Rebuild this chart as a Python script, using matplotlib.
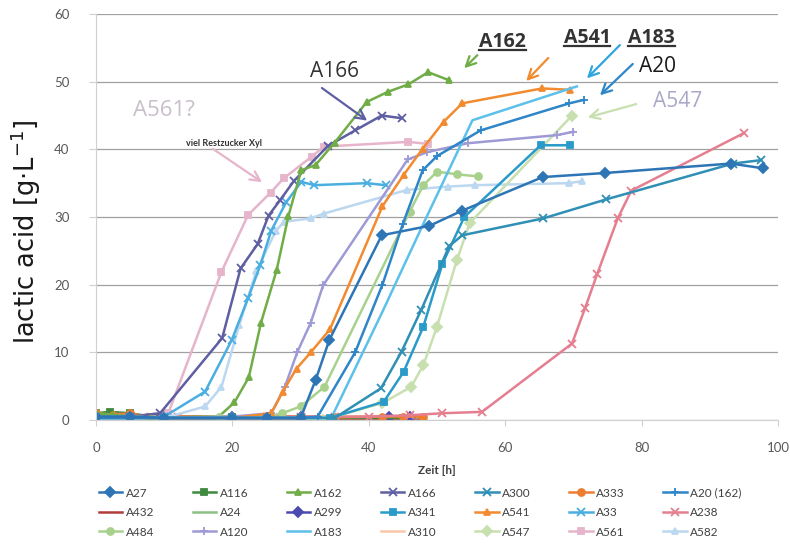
import matplotlib
matplotlib.use('Agg')
import matplotlib.pyplot as plt
from matplotlib.lines import Line2D

# lactic acid [g/L] over fermentation time [h], one pair of lists per strain
t_A27 = [0, 5, 10, 20, 25, 30, 32.2, 34.2, 41.9, 48.9, 53.6, 65.5, 74.6, 93.1, 97.8]
v_A27 = [0.5, 0.5, 0.3, 0.3, 0.3, 0.3, 5.9, 11.8, 27.3, 28.7, 30.9, 35.9, 36.5, 37.9, 37.2]

t_A116 = [0, 2, 5, 8, 20, 25, 30, 35, 45]
v_A116 = [1.0, 1.2, 1.0, 0.5, 0.5, 0.5, 0.5, 0.3, 0.3]

t_A162 = [0, 2.5, 5, 8, 18, 20.3, 22.4, 24.2, 26.5, 28.2, 30.1, 32.2, 35, 39.7, 42.8, 45.8, 48.7, 51.8]
v_A162 = [1.0, 0.8, 0.5, 0.3, 0.5, 2.6, 6.3, 14.4, 22.2, 30.1, 36.9, 37.7, 41.0, 47.0, 48.5, 49.6, 51.4, 50.2]

t_A166 = [0, 5, 9.4, 18.5, 21.2, 23.7, 25.3, 27.0, 29.0, 34.0, 38, 41.9, 44.8]
v_A166 = [0.5, 0.5, 1.0, 12.1, 22.4, 26.0, 30.2, 32.5, 35.3, 40.5, 42.8, 45.0, 44.6]

t_A300 = [0, 10, 20, 30, 35, 41.8, 44.8, 47.7, 51.8, 53.7, 65.6, 74.8, 93.4, 97.5]
v_A300 = [0.3, 0.3, 0.3, 0.3, 0.3, 4.7, 10.1, 16.3, 25.7, 27.3, 29.8, 32.6, 37.9, 38.4]

t_A333 = [0, 2.5, 5, 7.5, 10, 25, 30, 35, 42, 45, 48]
v_A333 = [1.0, 0.8, 1.0, 0.5, 0.5, 0.5, 0.5, 0.4, 0.5, 0.5, 0.5]

t_A20 = [0, 10, 20, 30, 32.5, 38, 42, 45, 47.9, 50, 56.4, 69.4, 71.5]
v_A20 = [0.3, 0.3, 0.3, 0.3, 0.5, 10.0, 20.0, 29.0, 36.9, 39.0, 42.8, 46.8, 47.3]

t_A432 = [0, 10, 20, 30, 40, 48]
v_A432 = [0.3, 0.3, 0.3, 0.3, 0.3, 0.3]

t_A24 = [0, 10, 20, 30, 40, 47]
v_A24 = [0.4, 0.4, 0.4, 0.4, 0.4, 0.4]

t_A299 = [0, 5, 10, 20, 30, 43, 46]
v_A299 = [0.5, 0.5, 0.4, 0.4, 0.4, 0.4, 0.4]

t_A341 = [0, 5, 10, 20, 25, 30, 34.3, 42.2, 45.1, 48, 50.8, 54, 65.2, 69.5]
v_A341 = [0.5, 0.5, 0.3, 0.3, 0.3, 0.3, 0.3, 2.7, 7.1, 13.8, 23.1, 30.0, 40.6, 40.6]

t_A541 = [0, 5, 10, 20, 25.7, 27.4, 29.4, 31.5, 34.3, 42, 45.1, 47.9, 51, 53.7, 65.4, 69.5]
v_A541 = [0.5, 0.5, 0.3, 0.3, 1.0, 4.2, 7.6, 10.0, 13.4, 31.6, 36.2, 40.1, 44.1, 46.8, 49.0, 48.8]

t_A33 = [0, 5, 10, 16, 19.9, 22.3, 24.1, 25.7, 27.9, 30.1, 32, 39.7, 42.5]
v_A33 = [0.3, 0.3, 0.5, 4.2, 11.8, 18.0, 22.9, 28.0, 32.2, 35.2, 34.7, 35.0, 34.7]

t_A238 = [0, 4, 8, 12, 25, 30, 35, 40, 46, 50.8, 56.6, 69.8, 71.7, 73.5, 76.5, 78.5, 95]
v_A238 = [0.5, 0.5, 0.4, 0.4, 0.5, 0.5, 0.5, 0.5, 0.7, 1.0, 1.2, 11.3, 16.5, 21.6, 29.8, 33.9, 42.4]

t_A484 = [0, 5, 10, 18, 25, 27.3, 30, 33.5, 46, 48, 50, 53, 56]
v_A484 = [0.5, 0.5, 0.3, 0.5, 0.5, 1.0, 2.0, 4.9, 30.8, 34.7, 36.7, 36.3, 36.0]

t_A120 = [0, 5, 10, 20, 25.7, 27.7, 29.5, 31.5, 33.3, 45.7, 48.6, 54.5, 67.6, 70]
v_A120 = [0.5, 0.5, 0.3, 0.5, 1.0, 4.9, 10.0, 14.4, 19.9, 38.5, 39.6, 40.9, 42.1, 42.6]

t_A183 = [0, 10, 20, 30, 34.5, 42, 48, 55.2, 70.5]
v_A183 = [0.3, 0.3, 0.3, 0.3, 0.3, 16.0, 29.0, 44.3, 49.3]

t_A310 = [0, 10, 20, 30, 40, 48]
v_A310 = [0.6, 0.5, 0.5, 0.5, 0.5, 0.5]

t_A547 = [0, 10, 20, 30, 33.3, 42, 46.2, 48, 50, 52.9, 54.8, 69.8]
v_A547 = [0.3, 0.3, 0.3, 0.3, 0.0, 2.5, 4.9, 8.1, 13.8, 23.6, 29.1, 45.0]

t_A561 = [0, 5, 10.6, 18.4, 22.3, 25.6, 27.5, 31.6, 33.4, 45.8, 48.7]
v_A561 = [0.5, 0.5, 1.0, 21.9, 30.3, 33.6, 35.7, 38.9, 40.4, 41.1, 40.8]

t_A582 = [0, 5, 10, 16, 18.4, 21, 23.5, 26.4, 27.6, 31.5, 33.4, 45.6, 51.6, 55.5, 69.3, 71.3]
v_A582 = [0.2, 0.2, 0.3, 2.0, 4.9, 14.0, 22.0, 28.0, 29.3, 29.8, 30.5, 34.0, 34.5, 34.7, 35.0, 35.3]

legend_order = ['A27', 'A116', 'A162', 'A166', 'A300', 'A333', 'A20 (162)',
                'A432', 'A24', 'A299', 'A341', 'A541', 'A33', 'A238',
                'A484', 'A120', 'A183', 'A310', 'A547', 'A561', 'A582']

# name, time, values, colour, marker
series = [
    ('A432', t_A432, v_A432, '#B23B3B', ''),
    ('A24', t_A24, v_A24, '#8CC084', ''),
    ('A310', t_A310, v_A310, '#F8C8A8', ''),
    ('A299', t_A299, v_A299, '#4A4AB0', 'D'),
    ('A116', t_A116, v_A116, '#3F8A3F', 's'),
    ('A333', t_A333, v_A333, '#ED7D31', 'o'),
    ('A238', t_A238, v_A238, '#E57F90', 'x'),
    ('A561', t_A561, v_A561, '#E6B4CB', 's'),
    ('A582', t_A582, v_A582, '#BBD8F0', '^'),
    ('A33', t_A33, v_A33, '#4AAEE0', 'x'),
    ('A166', t_A166, v_A166, '#5E5EA2', 'x'),
    ('A162', t_A162, v_A162, '#70AD47', '^'),
    ('A484', t_A484, v_A484, '#A9D18E', 'o'),
    ('A547', t_A547, v_A547, '#C8E0B0', 'D'),
    ('A120', t_A120, v_A120, '#9E9AD6', '+'),
    ('A541', t_A541, v_A541, '#F28B30', '^'),
    ('A183', t_A183, v_A183, '#5CC0EA', ''),
    ('A341', t_A341, v_A341, '#2A9BC8', 's'),
    ('A300', t_A300, v_A300, '#2F8FB5', 'x'),
    ('A20 (162)', t_A20, v_A20, '#2E86C8', '+'),
    ('A27', t_A27, v_A27, '#2E75B6', 'D'),
]

plt.rcParams['font.family'] = ['Lato', 'DejaVu Sans']

fig = plt.figure(figsize=(7.9, 5.51), dpi=100)
ax = fig.add_axes([96 / 790, 1 - 420 / 551, 682 / 790, 406 / 551])

handles = {}
for name, t, v, col, mk in series:
    ms = 5 if mk in ('D', 's', 'o', '^') else 6
    ln, = ax.plot(t, v, color=col, lw=1.8, marker=mk if mk else None,
                  ms=ms, mew=1.3, label=name)
    handles[name] = ln

ax.set_xlim(0, 100)
ax.set_ylim(0, 60)
ax.set_yticks(range(0, 61, 10))
ax.set_xticks(range(0, 101, 20))
ax.yaxis.grid(True, color='#A0A0A0', lw=0.9)
ax.set_axisbelow(True)
for side in ('top', 'right'):
    ax.spines[side].set_visible(False)
for side in ('left', 'bottom'):
    ax.spines[side].set_color('#D0D0D0')
ax.tick_params(axis='both', colors='#D0D0D0', labelcolor='#595959', labelsize=9.5)
ax.tick_params(axis='y', length=5, pad=14)
ax.tick_params(axis='x', length=4, pad=12)

ax.set_xlabel('Zeit [h]', fontsize=8.5, fontweight='bold', color='#404040', labelpad=8)
fig.text(26 / 790, 1 - 232 / 551, 'lactic acid [g·L$^{-1}$]', rotation=90,
         ha='center', va='center', fontsize=18.5, family='DejaVu Sans', color='#1A1A1A')

# strain labels with arrows
arrow_kw = dict(arrowstyle='->,head_length=0.7,head_width=0.35', lw=1.6)
ax.annotate('', xy=(40.1, 44.0), xytext=(32.8, 49.3),
            arrowprops=dict(color='#5E5EA2', **arrow_kw))
ax.text(35.0, 51.5, 'A166', fontsize=15, family='Open Sans', color='#333333',
        ha='center', va='center')

ax.annotate('', xy=(53.7, 51.7), xytext=(56.2, 54.2),
            arrowprops=dict(color='#70AD47', **arrow_kw))
ax.annotate('', xy=(62.8, 49.8), xytext=(66.6, 53.8),
            arrowprops=dict(color='#F28B30', **arrow_kw))
ax.annotate('', xy=(71.7, 50.2), xytext=(77.1, 55.7),
            arrowprops=dict(color='#2FA6DE', **arrow_kw))
ax.annotate('', xy=(73.6, 47.7), xytext=(79.0, 52.9),
            arrowprops=dict(color='#2E86C8', **arrow_kw))
ax.annotate('', xy=(71.7, 44.6), xytext=(79.6, 46.8),
            arrowprops=dict(color='#C8E0B0', **arrow_kw))
ax.annotate('', xy=(24.7, 34.9), xytext=(16.8, 40.3),
            arrowprops=dict(color='#E6B4CB', **arrow_kw))

bold_labels = [ax.text(59.6, 55.9, 'A162', fontsize=14, fontweight='bold', family='Open Sans',
                       color='#333333', ha='center', va='center'),
               ax.text(72.0, 56.4, 'A541', fontsize=14, fontweight='bold', family='Open Sans',
                       color='#333333', ha='center', va='center'),
               ax.text(81.5, 56.4, 'A183', fontsize=14, fontweight='bold', family='Open Sans',
                       color='#333333', ha='center', va='center')]
ax.text(82.3, 52.3, 'A20', fontsize=15, family='Open Sans', color='#1A1A1A',
        ha='center', va='center')
ax.text(85.3, 47.0, 'A547', fontsize=15, family='Open Sans', color='#A8A8C6',
        ha='center', va='center')
ax.text(9.9, 45.8, 'A561?', fontsize=16, family='Open Sans', color='#C9BFCB',
        ha='center', va='center')
ax.text(18.7, 40.9, 'viel Restzucker Xyl', fontsize=6.5, fontweight='bold',
        color='#333333', ha='center', va='center')

# legend laid out row by row, 7 per row
ncol = 7
nrow = 3
ordered = [legend_order[r * ncol + c] for c in range(ncol) for r in range(nrow)]
fig.legend([handles[n] for n in ordered], ordered, ncol=ncol, loc='upper left',
           bbox_to_anchor=(88 / 790, 1 - 477 / 551), frameon=False, fontsize=8.5,
           handlelength=2.0, handletextpad=0.3, columnspacing=3.25, labelspacing=0.72,
           labelcolor='#404040')

# underline the bold labels
fig.canvas.draw()
renderer = fig.canvas.get_renderer()
inv = fig.transFigure.inverted()
for txt in bold_labels:
    bb = txt.get_window_extent(renderer)
    (x0, y0), (x1, _) = inv.transform([(bb.x0, bb.y0 + 2), (bb.x1, bb.y0 + 2)])
    fig.add_artist(Line2D([x0, x1], [y0, y0], color='#333333', lw=1.6))

fig.savefig('out.png', dpi=100)
